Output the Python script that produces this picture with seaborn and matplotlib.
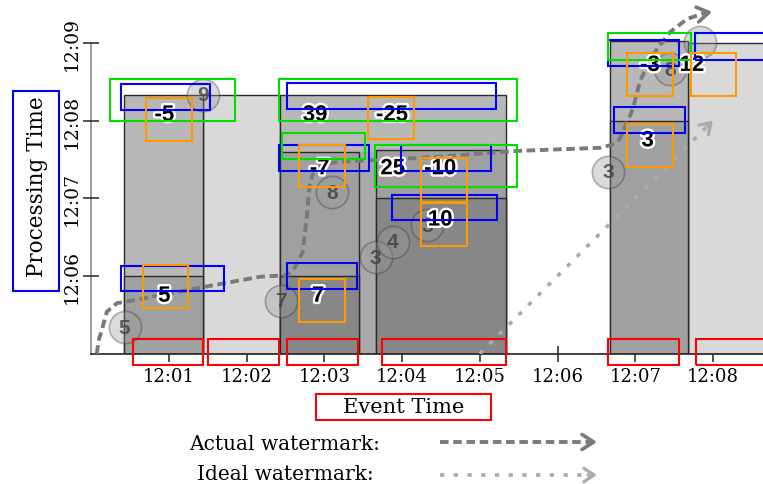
import matplotlib
matplotlib.use("Agg")
import matplotlib.pyplot as plt
import matplotlib.patheffects as pe
from matplotlib.patches import Rectangle
from matplotlib.lines import Line2D
import seaborn as sns
import pandas as pd

# ---------------- data (minutes after 12:00) ----------------
x_ticks = [1, 2, 3, 4, 5, 6, 7, 8]
x_ticklabels = ["12:01", "12:02", "12:03", "12:04", "12:05", "12:06", "12:07", "12:08"]
y_ticks = [6, 7, 8, 9]
y_ticklabels = ["12:06", "12:07", "12:08", "12:09"]

# window panes: event-time start/end, processing-time bottom/top, shade level
pane_start = [1.44, 0.42, 0.42, 2.43, 2.43, 2.43, 3.66, 2.43, 3.66, 7.68, 6.68, 6.68]
pane_end = [2.43, 1.44, 1.44, 5.34, 5.34, 3.45, 5.34, 3.45, 5.34, 8.80, 7.68, 7.68]
pane_bottom = [5, 5, 5, 5, 5, 5, 5, 5, 5, 5, 5, 5]
pane_top = [8.33, 8.33, 6.00, 8.33, 7.60, 7.60, 7.62, 6.00, 7.00, 9.00, 9.02, 8.00]
pane_shade = ["light", "mid", "dark", "mid", "strip", "dark", "dark", "darker",
              "darker", "light", "mid", "dark"]

# input elements: event time, processing time, value ("" = hidden)
input_event = [0.43, 1.44, 2.44, 3.10, 3.66, 3.88, 4.32, 6.65, 7.45, 7.83]
input_proc = [5.34, 8.33, 5.68, 7.08, 6.24, 6.44, 6.65, 7.34, 8.66, 9.01]
input_value = ["5", "9", "7", "8", "3", "4", "3", "3", "8", ""]

# emitted pane results
result_event = [0.94, 0.94, 2.88, 3.87, 2.94, 3.88, 4.49, 4.49, 2.92, 7.19, 7.73, 7.16]
result_proc = [8.07, 5.74, 8.07, 8.07, 7.38, 7.38, 7.38, 6.72, 5.74, 8.71, 8.71, 7.74]
result_label = ["-5", "5", "39", "-25", "-7", "25", "-10", "10", "7", "-3", "12", "3"]

# watermarks
actual_wm_event = [0.07, 0.10, 0.14, 0.20, 0.33, 0.50, 1.40, 2.17, 2.52, 2.63, 2.72,
                   2.77, 2.81, 2.86, 2.97, 3.20, 4.23, 5.48, 6.55, 6.70, 6.80, 6.97,
                   7.06, 7.15, 7.28, 7.45, 7.67, 7.88]
actual_wm_proc = [5.00, 5.19, 5.32, 5.54, 5.65, 5.68, 5.85, 5.99, 6.01, 6.12, 6.31,
                  6.73, 7.16, 7.35, 7.44, 7.47, 7.52, 7.61, 7.65, 7.69, 7.76, 8.15,
                  8.50, 8.70, 8.92, 9.14, 9.31, 9.38]
ideal_wm_event = [5.0, 7.93]
ideal_wm_proc = [5.0, 7.93]

legend_labels = ["Actual watermark:", "Ideal watermark:"]

# overlay annotation boxes (pixel coords in the 763x485 image)
overlay_boxes = [
    ("red", 133, 340, 203, 366), ("red", 208, 340, 279, 366), ("red", 287, 340, 358, 366),
    ("red", 382, 340, 506, 366), ("red", 608, 340, 679, 366), ("red", 696, 340, 770, 366),
    ("red", 316, 395, 491, 421),
    ("blue", 13, 92, 59, 292), ("blue", 121, 85, 210, 111), ("blue", 121, 267, 224, 292),
    ("blue", 287, 84, 496, 110), ("blue", 279, 146, 369, 172), ("blue", 401, 146, 491, 172),
    ("blue", 392, 196, 497, 221), ("blue", 287, 264, 357, 290), ("blue", 614, 108, 685, 134),
    ("blue", 608, 41, 679, 67), ("blue", 695, 34, 770, 61),
    ("green", 110, 80, 235, 122), ("green", 279, 80, 517, 122), ("green", 282, 134, 365, 160),
    ("green", 375, 146, 517, 188), ("green", 608, 34, 691, 61),
    ("orange", 146, 99, 192, 142), ("orange", 143, 266, 188, 309), ("orange", 368, 98, 414, 140),
    ("orange", 299, 146, 345, 188), ("orange", 421, 159, 467, 203), ("orange", 421, 204, 467, 247),
    ("orange", 299, 280, 345, 323), ("orange", 627, 54, 673, 97), ("orange", 691, 54, 736, 97),
    ("orange", 627, 125, 673, 168),
]

# ---------------- styling ----------------
sns.set_theme(style="white")
plt.rcParams["font.family"] = ["DejaVu Serif"]
plt.rcParams["text.color"] = "black"
plt.rcParams["xtick.color"] = "#222222"
plt.rcParams["ytick.color"] = "#222222"
plt.rcParams["xtick.labelcolor"] = "black"
plt.rcParams["ytick.labelcolor"] = "black"

shade_colors = {"light": "#d9d9d9", "mid": "#b8b8b8", "strip": "#a9a9a9",
                "dark": "#a0a0a0", "darker": "#878787"}
box_colors = {"red": "#ff0000", "blue": "#0000ff", "green": "#00e000", "orange": "#ff9900"}

W, H = 763, 485
fig = plt.figure(figsize=(W / 100, H / 100), dpi=100)
x0_px, y0_px, unit = 91.3, 354.7, 77.7
xmax = (W - x0_px) / unit
ymax = 5 + y0_px / unit
ax = fig.add_axes([x0_px / W, (H - y0_px) / H, (W - x0_px) / W, y0_px / H])
ax.set_xlim(0, xmax)
ax.set_ylim(5, ymax)
ax.patch.set_alpha(0)

# panes
for s, e, b, t, sh in zip(pane_start, pane_end, pane_bottom, pane_top, pane_shade):
    ax.bar(s, t - b, width=e - s, bottom=b, align="edge", color=shade_colors[sh],
           edgecolor="none" if sh == "strip" else "#2a2a2a", linewidth=1.0, zorder=1)

# watermarks
wm_actual = pd.DataFrame({"event": actual_wm_event, "proc": actual_wm_proc})
wm_ideal = pd.DataFrame({"event": ideal_wm_event, "proc": ideal_wm_proc})
sns.lineplot(data=wm_ideal, x="event", y="proc", sort=False, estimator=None, ax=ax,
             color="#ababab", lw=2.6, linestyle=(0, (1.2, 2.6)), zorder=3)
sns.lineplot(data=wm_actual, x="event", y="proc", sort=False, estimator=None, ax=ax,
             color="#7a7a7a", lw=2.8, linestyle=(0, (2.2, 1.2)), zorder=3)
ax.annotate("", xy=(actual_wm_event[-1] + 0.11, actual_wm_proc[-1] + 0.02),
            xytext=(actual_wm_event[-1], actual_wm_proc[-1]),
            arrowprops=dict(arrowstyle="->,head_length=0.7,head_width=0.45", color="#7a7a7a",
                            lw=2.6, shrinkA=0, shrinkB=0), zorder=3)
ax.annotate("", xy=(ideal_wm_event[-1] + 0.07, ideal_wm_proc[-1] + 0.07),
            xytext=(ideal_wm_event[-1], ideal_wm_proc[-1]),
            arrowprops=dict(arrowstyle="->,head_length=0.6,head_width=0.4", color="#ababab",
                            lw=2.4, shrinkA=0, shrinkB=0), zorder=3)

# input elements
sns.scatterplot(x=input_event, y=input_proc, s=540, color="#9a9a9a", alpha=0.35,
                edgecolor="#333333", linewidth=1.2, ax=ax, zorder=4, legend=False, clip_on=False)
for xe, yp, v in zip(input_event, input_proc, input_value):
    ax.text(xe, yp, v, ha="center", va="center", fontsize=15, fontweight="bold",
            family="Liberation Sans", color="#3f3f3f", alpha=0.8, zorder=5)

# results
for xe, yp, lab in zip(result_event, result_proc, result_label):
    ax.text(xe, yp, lab, ha="center", va="center", fontsize=16, fontweight="bold",
            family="Liberation Sans", color="black", zorder=6,
            path_effects=[pe.withStroke(linewidth=3.5, foreground="white")])

# axes
for sp in ["top", "right"]:
    ax.spines[sp].set_visible(False)
ax.spines["left"].set_bounds(5, 9)
ax.spines["left"].set_color("#8a8a8a")
ax.spines["left"].set_linewidth(1.2)
ax.spines["bottom"].set_color("#222222")
ax.spines["bottom"].set_linewidth(1.2)
ax.spines["left"].set_zorder(0.5)
ax.set_xticks(x_ticks)
ax.set_xticklabels(x_ticklabels, fontsize=13)
ax.set_yticks(y_ticks)
ax.set_yticklabels(y_ticklabels, fontsize=13.5, rotation=90, va="center")
ax.tick_params(axis="both", which="major", bottom=True, left=True, direction="inout",
               length=11.5, width=1.1, color="#222222")
ax.tick_params(axis="x", pad=4)
ax.tick_params(axis="y", pad=2)
ax.set_xlabel("")
ax.set_ylabel("")
ax.text((37 - x0_px) / (W - x0_px), (y0_px - 187) / y0_px, "Processing Time",
        transform=ax.transAxes, rotation=90, ha="center", va="center", fontsize=15.5)
ax.text((403.5 - x0_px) / (W - x0_px), -(408 - y0_px) / y0_px, "Event Time",
        transform=ax.transAxes, ha="center", va="center", fontsize=15)

# legend
fig.text(285 / W, 1 - 445 / H, legend_labels[0], ha="center", va="center", fontsize=14.5)
fig.text(285 / W, 1 - 475 / H, legend_labels[1], ha="center", va="center", fontsize=14.5)
fig.add_artist(Line2D([440 / W, 588 / W], [1 - 443 / H, 1 - 443 / H], transform=fig.transFigure,
                      color="#7a7a7a", lw=2.8, linestyle=(0, (2.2, 1.2))))
fig.add_artist(Line2D([440 / W, 588 / W], [1 - 476 / H, 1 - 476 / H], transform=fig.transFigure,
                      color="#ababab", lw=2.6, linestyle=(0, (1.2, 2.6))))
ax.annotate("", xy=(597, H - 443), xycoords="figure pixels", xytext=(588, H - 443),
            textcoords="figure pixels",
            arrowprops=dict(arrowstyle="->,head_length=0.7,head_width=0.45", color="#7a7a7a",
                            lw=2.6, shrinkA=0, shrinkB=0), annotation_clip=False)
ax.annotate("", xy=(597, H - 476), xycoords="figure pixels", xytext=(588, H - 476),
            textcoords="figure pixels",
            arrowprops=dict(arrowstyle="->,head_length=0.6,head_width=0.4", color="#ababab",
                            lw=2.4, shrinkA=0, shrinkB=0), annotation_clip=False)

# overlay boxes
for c, x1, y1, x2, y2 in overlay_boxes:
    fig.add_artist(Rectangle((x1 / W, 1 - y2 / H), (x2 - x1) / W, (y2 - y1) / H,
                             transform=fig.transFigure, fill=False,
                             edgecolor=box_colors[c], lw=1.5, zorder=10))

fig.savefig("out.png", dpi=100)
